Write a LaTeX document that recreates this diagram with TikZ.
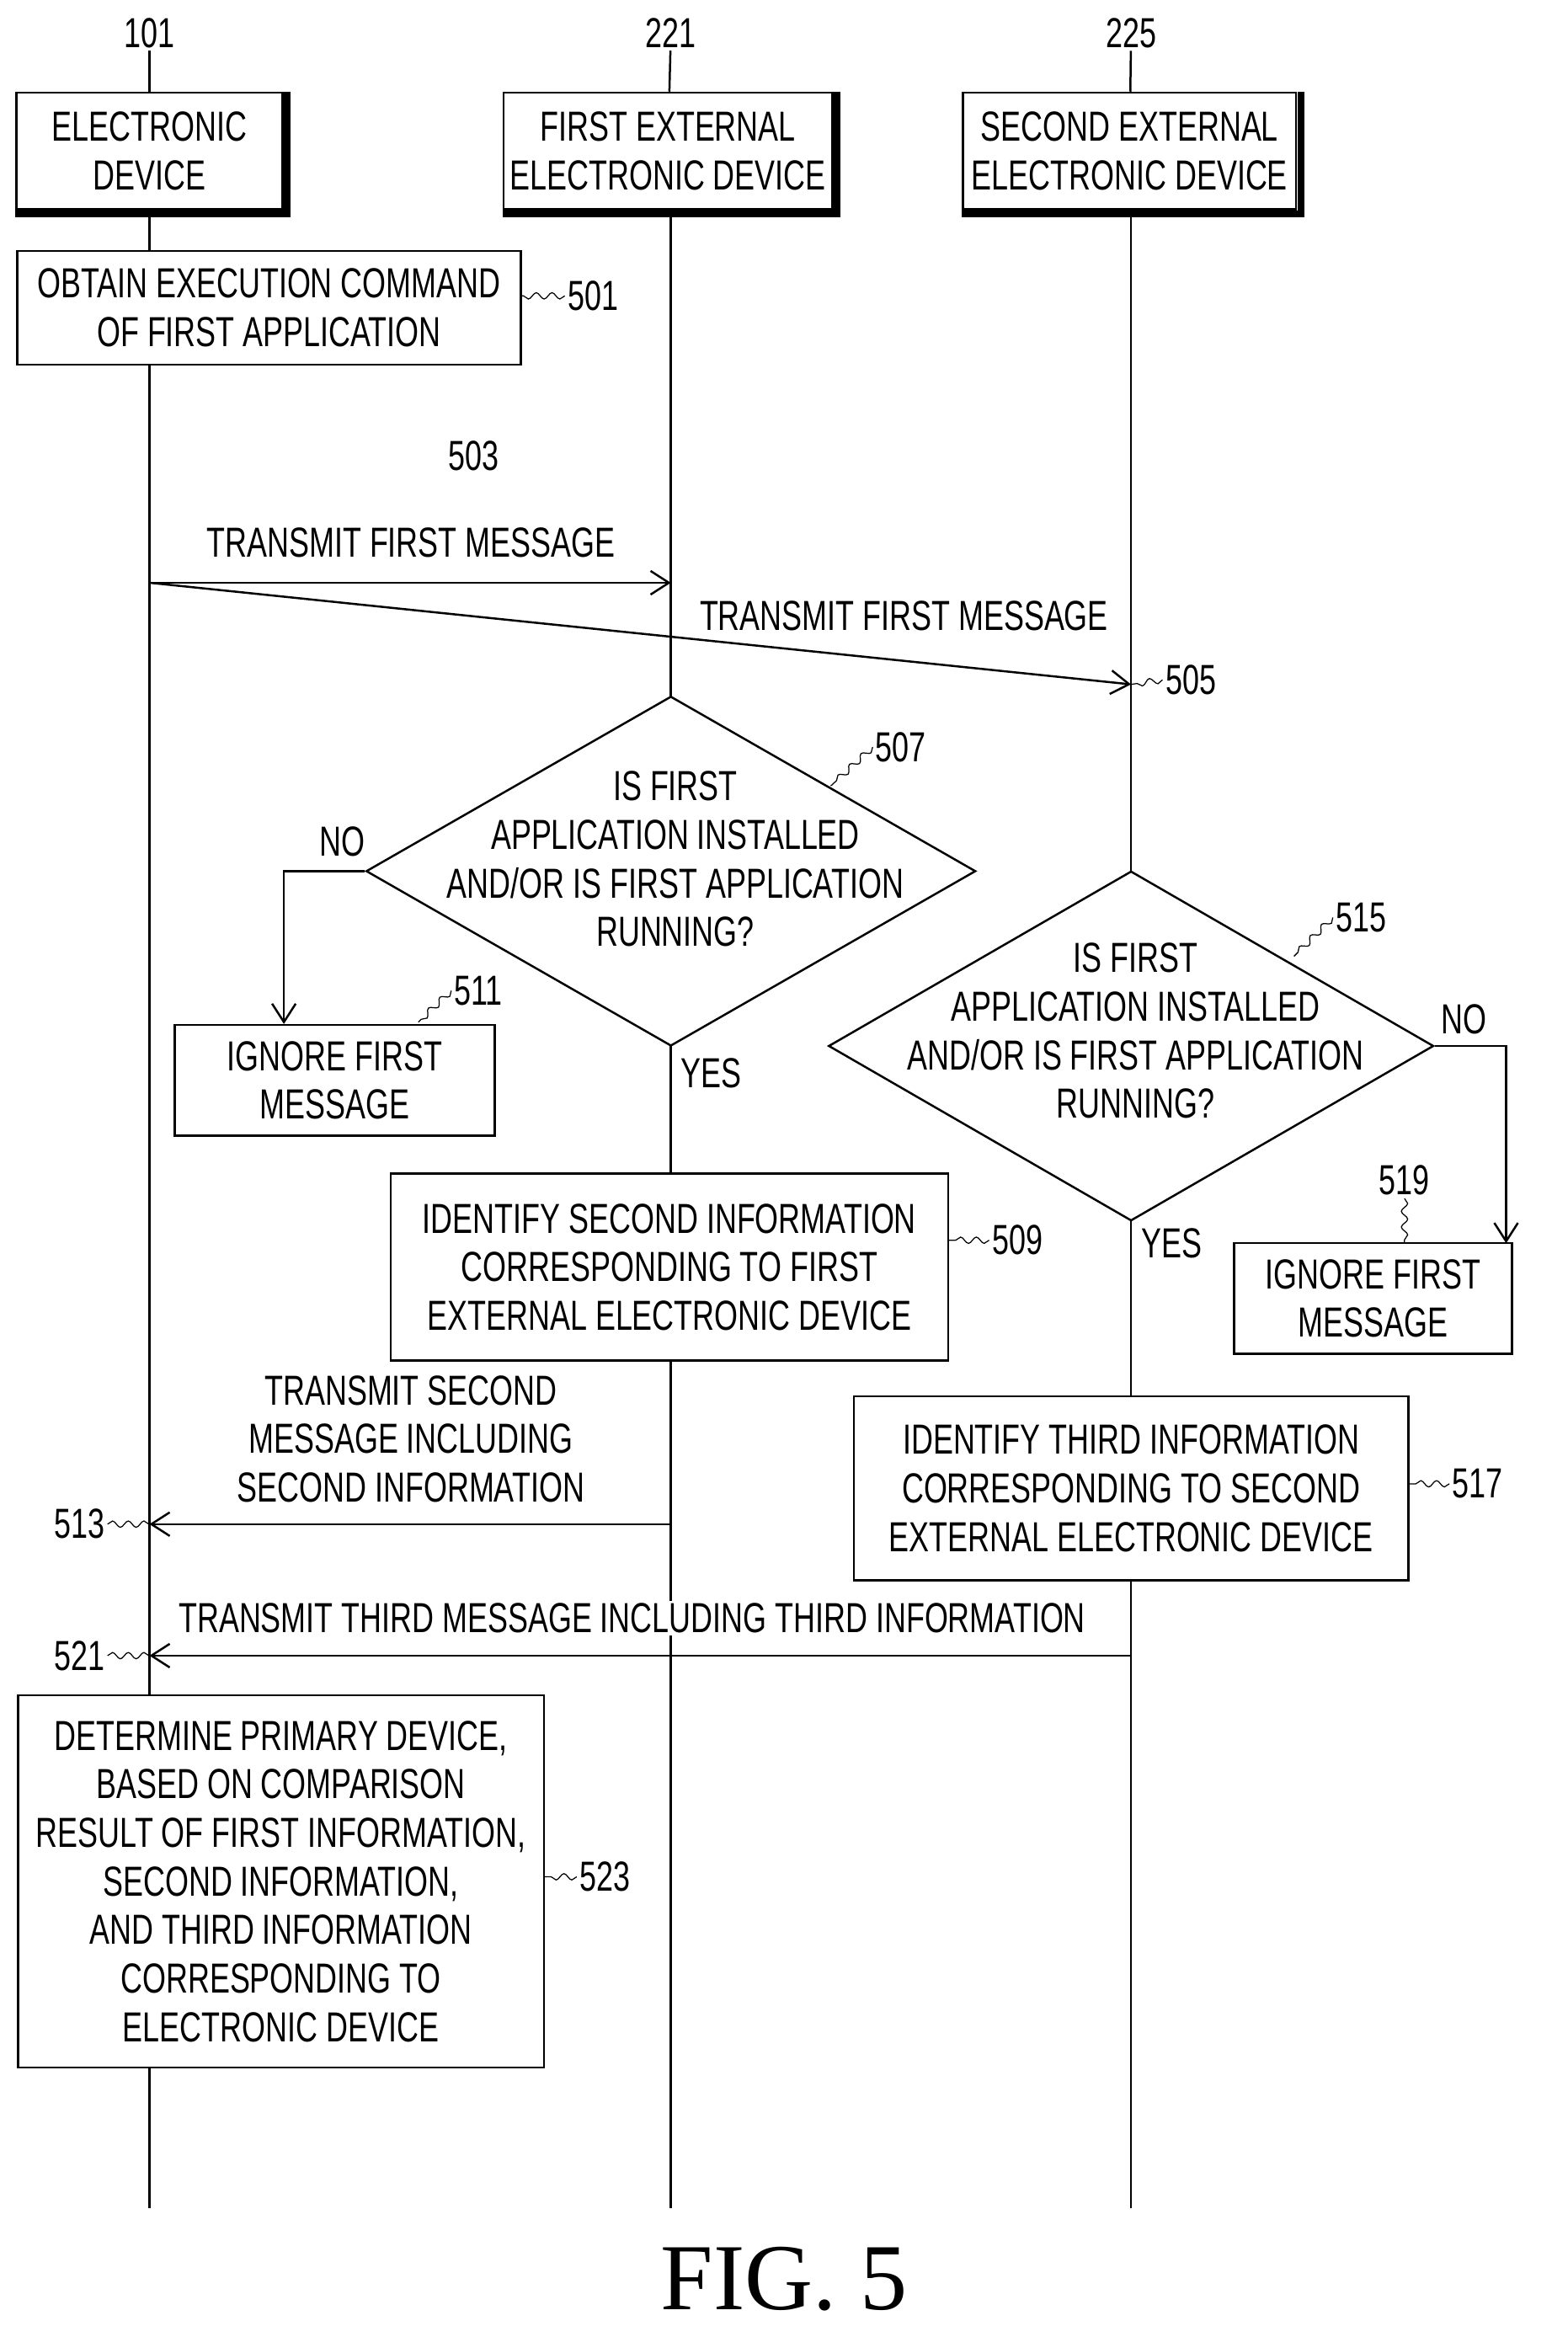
\documentclass[tikz,border=0pt]{standalone}
\usepackage{fontspec}
\setmainfont{Liberation Sans}[FakeStretch=0.72]
\newfontfamily\figfont{Liberation Serif}
\usetikzlibrary{shapes.geometric,decorations.pathmorphing,arrows.meta}
\tikzset{
  txt/.style={font=\fontsize{16}{18.5}\selectfont,align=center,inner sep=1pt},
  box/.style={txt,draw,fill=white,thick},
  ref/.style={txt},
  squig/.style={decorate,decoration={snake,amplitude=1.2pt,segment length=6pt}},
  msg/.style={thick,-{Straight Barb[length=7pt,width=9pt]}}
}
\newcommand{\devbox}[5]{\node[box,minimum width=#4*0.02cm,minimum height=78*0.02cm] (#1) at (#2,#3) {#5};
  \draw[line width=2.5pt] ([xshift=1.5pt]#1.north east) |- ([yshift=-1.5pt]#1.south west);}
\newcommand{\refnum}[5]{\node[ref,anchor=west] (#1) at (#2,#3) {#5};
  \draw[squig] (#1.west) -- (#4);}
\begin{document}
\begin{tikzpicture}[x=0.02cm,y=-0.02cm]
  \useasboundingbox (0,0) rectangle (1049,1564);
  % lifelines
  \draw[thick] (100,140) -- (100,1478);
  \draw[thick] (449,140) -- (449,1478);
  \draw[thick] (757,140) -- (757,1478);
  % devices
  \devbox{ed}{100}{101}{178}{ELECTRONIC\\DEVICE}
  \devbox{fed}{447}{101}{220}{FIRST EXTERNAL\\ELECTRONIC DEVICE}
  \devbox{sed}{756}{101}{223}{SECOND EXTERNAL\\ELECTRONIC DEVICE}
  \node[txt] (n101) at (100,22) {101}; \draw[thick] (n101) -- (ed);
  \node[txt] (n221) at (449,22) {221}; \draw[thick] (n221) -- (fed);
  \node[txt] (n225) at (757,22) {225}; \draw[thick] (n225) -- (sed);
  % 501
  \node[box,minimum width=337*0.02cm,minimum height=76*0.02cm] (s501) at (180,206) {OBTAIN EXECUTION COMMAND\\OF FIRST APPLICATION};
  \refnum{r501}{378}{198}{s501.east|-0,198}{501}
  % first messages
  \coordinate (m0) at (100,390);
  \coordinate (m1) at (449,390);
  \coordinate (m2) at (757,458);
  \draw[msg] (m0) -- (m1);
  \draw[msg] (m0) -- (m2);
  \node[txt] at (317,305) {503};
  \node[txt] at (275,363) {TRANSMIT FIRST MESSAGE};
  \node[txt] at (605,412) {TRANSMIT FIRST MESSAGE};
  \refnum{r505}{778}{455}{m2}{505}
  % 507
  \node[txt,draw,thick,fill=white,diamond,aspect=1.75,minimum width=408*0.02cm,minimum height=234*0.02cm,inner sep=0pt] (d507) at (449,583) {};
  \node[txt] at (452,575) {IS FIRST\\APPLICATION INSTALLED\\AND/OR IS FIRST APPLICATION\\RUNNING?};
  \refnum{r507}{584}{500}{556,526}{507}
  \node[box,minimum width=214*0.02cm,minimum height=74*0.02cm] (s511) at (224,723) {IGNORE FIRST\\MESSAGE};
  \refnum{r511}{302}{663}{280,684}{511}
  \draw[msg] (d507.west) -| (s511.north west-|190,0);
  \node[txt] at (229,563) {NO};
  \node[txt] at (476,718) {YES};
  \node[box,minimum width=373*0.02cm,minimum height=125*0.02cm] (s509) at (448,848) {IDENTIFY SECOND INFORMATION\\CORRESPONDING TO FIRST\\EXTERNAL ELECTRONIC DEVICE};
  \refnum{r509}{662}{830}{s509.east|-0,830}{509}
  % 515
  \node[txt,draw,thick,fill=white,diamond,aspect=1.75,minimum width=405*0.02cm,minimum height=234*0.02cm,inner sep=0pt] (d515) at (757,700) {};
  \node[txt] at (760,690) {IS FIRST\\APPLICATION INSTALLED\\AND/OR IS FIRST APPLICATION\\RUNNING?};
  \refnum{r515}{892}{614}{866,640}{515}
  \node[box,minimum width=186*0.02cm,minimum height=74*0.02cm] (s519) at (919,869) {IGNORE FIRST\\MESSAGE};
  \node[txt] (r519) at (940,790) {519};
  \draw[squig] (r519.south) -- (s519.north-|940,0);
  \draw[msg] (d515.east) -| (1008,832);
  \node[txt] at (980,682) {NO};
  \node[txt] at (784,832) {YES};
  \node[box,minimum width=371*0.02cm,minimum height=123*0.02cm] (s517) at (757,996) {IDENTIFY THIRD INFORMATION\\CORRESPONDING TO SECOND\\EXTERNAL ELECTRONIC DEVICE};
  \refnum{r517}{970}{993}{s517.east|-0,993}{517}
  % replies
  \coordinate (a513) at (100,1020);
  \coordinate (a521) at (100,1108);
  \draw[msg] (449,1020) -- (a513);
  \node[txt] at (275,963) {TRANSMIT SECOND\\MESSAGE INCLUDING\\SECOND INFORMATION};
  \node[txt,anchor=east] (r513) at (72,1020) {513}; \draw[squig] (r513.east) -- (a513);
  \draw[msg] (757,1108) -- (a521);
  \node[txt,fill=white] at (423,1083) {TRANSMIT THIRD MESSAGE INCLUDING THIRD INFORMATION};
  \node[txt,anchor=east] (r521) at (72,1108) {521}; \draw[squig] (r521.east) -- (a521);
  % 523
  \node[box,minimum width=352*0.02cm,minimum height=249*0.02cm] (s523) at (188,1259) {DETERMINE PRIMARY DEVICE,\\BASED ON COMPARISON\\RESULT OF FIRST INFORMATION,\\SECOND INFORMATION,\\AND THIRD INFORMATION\\CORRESPONDING TO\\ELECTRONIC DEVICE};
  \refnum{r523}{386}{1256}{s523.east|-0,1256}{523}
  \node[font=\figfont\fontsize{36}{36}\selectfont] at (525,1525) {FIG. 5};
\end{tikzpicture}
\end{document}
